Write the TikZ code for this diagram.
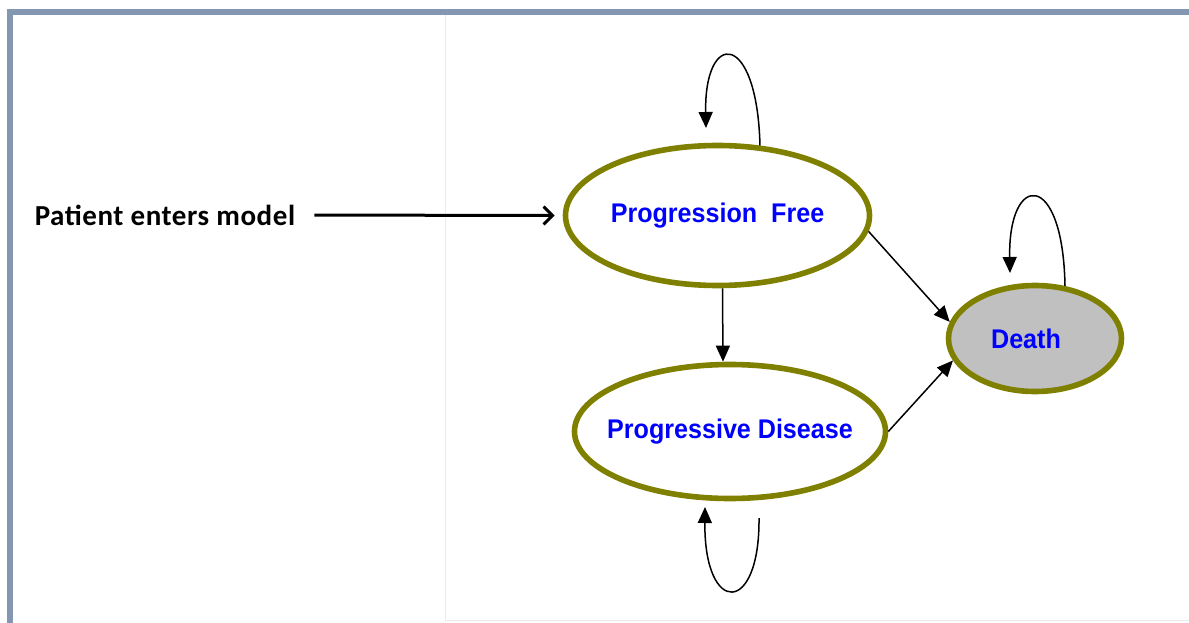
\documentclass[tikz,border=0pt]{standalone}
\usepackage{fontspec}
\setmainfont{Liberation Sans}
\newfontfamily\calfont{Carlito}
\usetikzlibrary{shapes.geometric,arrows.meta,calc}
\definecolor{framecol}{HTML}{8497B2}
\definecolor{olivecol}{HTML}{808000}
\definecolor{fillgray}{HTML}{C0C0C0}
\definecolor{faintcol}{HTML}{EBEBEB}
\newcommand{\stxt}[1]{\makebox[0pt]{\scalebox{0.93}[1]{#1}}}
\tikzset{
  state/.style={ellipse, draw=olivecol, line width=5.6pt, fill=white, inner sep=0pt,
    text=blue, font=\fontsize{27}{30}\selectfont\bfseries},
  conn/.style={line width=1.5pt, -{Triangle[width=14pt,length=16pt]}},
  entry/.style={line width=3pt, -{Straight Barb[width=18pt,length=9pt,line width=3pt]}},
}
\begin{document}
\begin{tikzpicture}[x=1pt,y=-1pt]
\useasboundingbox (0,0) rectangle (1189,623);
\fill[white] (0,0) rectangle (1189,623);
% faint panel
\draw[faintcol, line width=1pt] (445,15) -- (445,620) -- (1189,620);
% frame
\draw[framecol, line width=5.8pt] (9.8,623) -- (9.8,12.4) -- (1189,12.4);
% nodes
\node[state, minimum width=304pt, minimum height=140pt] (PF) at (717.5,215.5) {\stxt{Progression~ Free}};
\node[state, minimum width=311pt, minimum height=134pt] (PD) at (730,431.5) {\stxt{Progressive Disease}};
\node[state, fill=fillgray, minimum width=173pt, minimum height=106pt] (D) at (1035,338.5) {\hspace*{-18pt}\stxt{Death}};
\node[inner sep=0pt, font=\calfont\bfseries\fontsize{29}{32}\selectfont\addfontfeatures{LetterSpace=2}] (Pt) at (165,215) {Patient enters model};
% connectors
\draw[entry, shorten <=19pt] (Pt.east) -- ($(PF.west)+(-8,0)$);
\draw[conn] ($(PF.south)+(5,0)$) -- ($(PD.north)+(-7,0)$);
\draw[conn] (PF.-6) -- (D.169);
\draw[conn] (PD.0) -- (D.-165);
% self loops
\coordinate (pfl) at (706,128);
\draw[conn] ($(PF.north)+(42.5,2.8)$) .. controls +(-3,-116) and +(-2,-98) .. (pfl);
\coordinate (dl) at (1010,273);
\draw[conn] ($(D.north)+(30,3.3)$) .. controls +(-2,-117) and +(-2,-101) .. (dl);
\coordinate (pds) at (759,518);
\coordinate (pde) at (705,507);
\draw[conn] (pds) .. controls +(1,98) and +(-1,109) .. (pde);
\end{tikzpicture}
\end{document}
